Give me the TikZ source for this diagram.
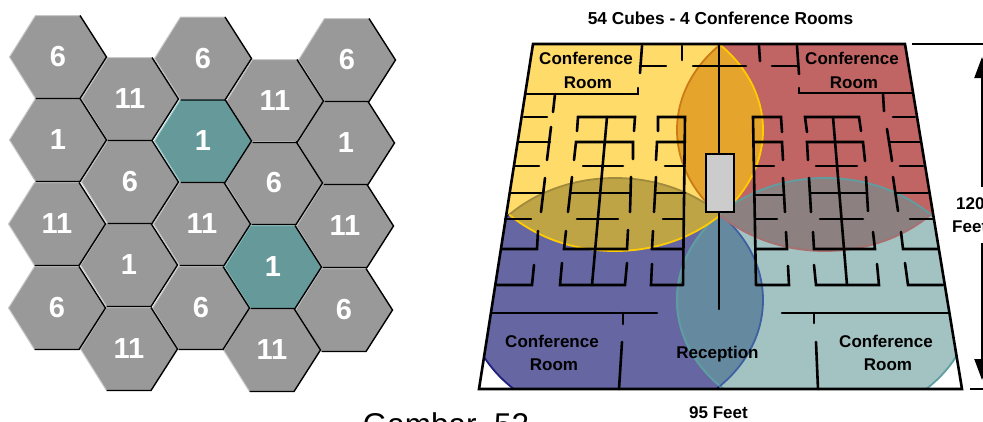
\documentclass[tikz,border=0pt]{standalone}
\usepackage{fontspec}
\setmainfont{Liberation Sans}
\usetikzlibrary{arrows.meta}
\definecolor{hexgrey}{HTML}{999999}
\definecolor{hexteal}{HTML}{669999}
\definecolor{hexlite}{HTML}{C8C8C8}
\definecolor{teallite}{HTML}{9CCCCC}
\definecolor{qyellow}{HTML}{FFDB69}
\definecolor{qred}{HTML}{C06464}
\definecolor{qblue}{HTML}{6666A3}
\definecolor{qteal}{HTML}{A3C2C2}
\definecolor{lorange}{HTML}{E5A42B}
\definecolor{lolive}{HTML}{BFA445}
\definecolor{lgrey}{HTML}{8C8080}
\definecolor{lslate}{HTML}{658AA0}
\definecolor{agold}{HTML}{FFCC00}
\definecolor{adkorange}{HTML}{CC7A14}
\definecolor{adkolive}{HTML}{A08A3C}
\definecolor{aredbrown}{HTML}{A87070}
\definecolor{ateal}{HTML}{5F9EA0}
\definecolor{ablue}{HTML}{3F60A0}
\definecolor{anavy}{HTML}{1F1F80}
\definecolor{deskgrey}{HTML}{CCCCCC}
\def\elY{(615,130) ellipse [x radius=148pt, y radius=121pt]}
\def\elR{(825,130) ellipse [x radius=148pt, y radius=121pt]}
\def\elB{(615,300) ellipse [x radius=148pt, y radius=122pt]}
\def\elT{(825,300) ellipse [x radius=148pt, y radius=122pt]}
\def\floorpath{(533,44) -- (905,44) -- (962,389) -- (479,389) -- cycle}
\tikzset{
  wall/.style={draw=black, line width=2.6pt, line cap=round, line join=miter},
  outerwall/.style={draw=black, line width=2.6pt, line join=miter},
  arc/.style={line width=1.8pt},
  hexnum/.style={text=white, font=\bfseries\fontsize{29}{29}\selectfont, inner sep=0pt},
  planlabel/.style={text=black, font=\bfseries\fontsize{17}{17}\selectfont, inner sep=0pt, anchor=base},
  dimline/.style={draw=black, line width=2.2pt},
  dimarrow/.style={draw=black, line width=2.2pt, -{Triangle[length=21pt,width=15pt]}},
}
% cx, cy, unused, fill, light edge
\newcommand{\hexfill}[5]{%
  \fill[#4] (#1-48.5,#2) -- (#1-22.5,#2-41.5) -- (#1+22,#2-41.5) -- (#1+48.5,#2) -- (#1+22,#2+41.5) -- (#1-22.5,#2+41.5) -- cycle;
  \draw[#5, line width=1pt] (#1-22.5,#2+41.5) -- (#1-48.5,#2) -- (#1-22.5,#2-41.5) -- (#1+22,#2-41.5);
}
\newcommand{\hexedge}[2]{%
  \draw[black, line width=1.4pt, line join=miter] (#1+22,#2-41.5) -- (#1+48.5,#2) -- (#1+22,#2+41.5) -- (#1-22.5,#2+41.5);
}
\begin{document}
\begin{tikzpicture}[x=1pt,y=-1pt]
\useasboundingbox (0,0) rectangle (983,421);
\fill[white] (0,0) rectangle (983,421);
% hex grid
\foreach \cx/\cy/\col/\lite in {58/57/hexgrey/hexlite,58/140/hexgrey/hexlite,57/224/hexgrey/hexlite,57/308/hexgrey/hexlite,
  130/99/hexgrey/hexlite,130/182/hexgrey/hexlite,129/265/hexgrey/hexlite,129/349/hexgrey/hexlite,
  203/58.5/hexgrey/hexlite,203/141/hexteal/teallite,202/224/hexgrey/hexlite,201/308/hexgrey/hexlite,
  275/101/hexgrey/hexlite,274/183/hexgrey/hexlite,273/267/hexteal/teallite,272/350/hexgrey/hexlite,
  347/60/hexgrey/hexlite,346/143/hexgrey/hexlite,345/226/hexgrey/hexlite,344/310/hexgrey/hexlite}
  {\hexfill{\cx}{\cy}{}{\col}{\lite}}
\foreach \cx/\cy in {58/57,58/140,57/224,57/308,130/99,130/182,129/265,129/349,
  203/58.5,203/141,202/224,201/308,275/101,274/183,273/267,272/350,347/60,346/143,345/226,344/310}
  {\hexedge{\cx}{\cy}}
\node[hexnum] (h11) at (58,57) {6};
\node[hexnum] (h12) at (58,140) {1};
\node[hexnum] (h13) at (57,224) {11};
\node[hexnum] (h14) at (57,308) {6};
\node[hexnum] (h21) at (130,99) {11};
\node[hexnum] (h22) at (130,182) {6};
\node[hexnum] (h23) at (129,265) {1};
\node[hexnum] (h24) at (129,349) {11};
\node[hexnum] (h31) at (203,58.5) {6};
\node[hexnum] (h32) at (203,141) {1};
\node[hexnum] (h33) at (202,224) {11};
\node[hexnum] (h34) at (201,308) {6};
\node[hexnum] (h41) at (275,101) {11};
\node[hexnum] (h42) at (274,183) {6};
\node[hexnum] (h43) at (273,267) {1};
\node[hexnum] (h44) at (272,350) {11};
\node[hexnum] (h51) at (347,60) {6};
\node[hexnum] (h52) at (346,143) {1};
\node[hexnum] (h53) at (345,226) {11};
\node[hexnum] (h54) at (344,310) {6};
% floor plan colour zones
\begin{scope}
  \clip \floorpath;
  \fill[qblue] \elB;  \draw[anavy,arc] \elB;
  \fill[qteal] \elT;  \draw[ateal,arc] \elT;
  \begin{scope}\clip \elB; \fill[lslate] \elT; \draw[ateal,arc] \elT; \end{scope}
  \begin{scope}\clip \elT; \draw[ablue,arc] \elB; \end{scope}
  \fill[qyellow] \elY;
  \fill[qred] \elR;
  \begin{scope}\clip \elY; \fill[lorange] \elR; \draw[adkorange,arc] \elR; \end{scope}
  \begin{scope}\clip \elR; \draw[agold,arc] \elY; \end{scope}
  \begin{scope}\clip \elY; \fill[lolive] \elB; \draw[adkolive,arc] \elB; \end{scope}
  \begin{scope}\clip \elR; \fill[lgrey] \elT; \draw[ateal,arc] \elT; \end{scope}
  \begin{scope}\clip (480,130) rectangle (770,300); \begin{scope}\clip \elB; \draw[agold,arc] \elY; \end{scope}\end{scope}
  \begin{scope}\clip \elT; \draw[aredbrown,arc] \elR; \end{scope}
\end{scope}
% outer walls
\draw[outerwall] \floorpath;
% centre spine
\draw[wall] (719,44) -- (719,155);
\draw[wall] (719,212) -- (719,309);
\node[draw=black, line width=2.4pt, fill=deskgrey, minimum width=28pt, minimum height=58pt, inner sep=0pt] (desk) at (720,183) {};
% top left walls
\draw[wall] (642,46) -- (640,73);
\draw[wall] (640,66) -- (666,66);
\draw[wall] (682,46) -- (682,60);
\draw[wall] (693,66) -- (746,66);
\draw[wall] (526,94) -- (638,94) -- (638,88);
\draw[wall] (555,94) -- (553,112);
\draw[wall] (524,117) -- (547,117);
\draw[wall] (551,127) -- (547,160);
\draw[wall] (519,142) -- (550,142);
\draw[wall] (515,166) -- (539,166);
\draw[wall] (545,178) -- (541,212);
\draw[wall] (510,193) -- (543,193);
\draw[wall] (577,131) -- (578,117) -- (635,117) -- (634,131);
\draw[wall] (607,117) -- (592,285);
\draw[wall] (574,160) -- (576,142) -- (633,142) -- (633,159);
\draw[wall] (583,166) -- (623,166);
\draw[wall] (572,177) -- (568,212);
\draw[wall] (631,177) -- (630,212);
\draw[wall] (570,193) -- (630,193);
\draw[wall] (658,131) -- (658,117) -- (685,117) -- (683,285);
\draw[wall] (656,160) -- (657,142) -- (685,142);
\draw[wall] (665,166) -- (685,166);
\draw[wall] (656,177) -- (654,212);
\draw[wall] (655,193) -- (685,193);
% lower left walls
\draw[wall] (505,219) -- (531,219);
\draw[wall] (577,219) -- (618,219);
\draw[wall] (663,219) -- (683,219);
\draw[wall] (502,249) -- (537,249) -- (538,231);
\draw[wall] (566,231) -- (564,249) -- (627,249) -- (628,230);
\draw[wall] (653,231) -- (652,249) -- (683,249);
\draw[wall] (497,285) -- (532,285) -- (534,265);
\draw[wall] (562,263) -- (560,285) -- (625,285) -- (627,263);
\draw[wall] (652,264) -- (651,285) -- (683,285);
\draw[wall] (492,313) -- (657,313);
\draw[wall] (623,313) -- (623,324);
\draw[wall] (622,342) -- (619,389);
% top right walls
\draw[wall] (759,46) -- (760,61);
\draw[wall] (797,46) -- (799,74);
\draw[wall] (772,66) -- (797,66);
\draw[wall] (799,88) -- (799,93) -- (912,93);
\draw[wall] (883,94) -- (884,111);
\draw[wall] (893,117) -- (915,117);
\draw[wall] (887,129) -- (892,161);
\draw[wall] (889,142) -- (920,142);
\draw[wall] (900,166) -- (923,166);
\draw[wall] (893,177) -- (898,211);
\draw[wall] (895,193) -- (928,193);
\draw[wall] (782,132) -- (781,117) -- (753,117) -- (756,285);
\draw[wall] (754,142) -- (782,142) -- (783,160);
\draw[wall] (754,166) -- (774,166);
\draw[wall] (783,178) -- (785,212);
\draw[wall] (754,195) -- (784,195);
\draw[wall] (807,132) -- (805,117) -- (859,117) -- (861,131);
\draw[wall] (833,117) -- (847,285);
\draw[wall] (808,160) -- (807,142) -- (863,142) -- (865,161);
\draw[wall] (816,166) -- (857,166);
\draw[wall] (809,178) -- (811,212);
\draw[wall] (866,177) -- (868,211);
\draw[wall] (811,193) -- (867,193);
% lower right walls
\draw[wall] (755,219) -- (777,219);
\draw[wall] (820,219) -- (863,219);
\draw[wall] (910,219) -- (933,219);
\draw[wall] (756,249) -- (787,249) -- (786,232);
\draw[wall] (813,232) -- (814,249) -- (875,249) -- (873,232);
\draw[wall] (901,232) -- (903,249) -- (938,249);
\draw[wall] (756,285) -- (789,285) -- (788,266);
\draw[wall] (814,265) -- (816,285) -- (879,285) -- (877,264);
\draw[wall] (905,263) -- (908,285) -- (943,285);
\draw[wall] (782,313) -- (948,313);
\draw[wall] (814,313) -- (814,323);
\draw[wall] (816,342) -- (818,389);
% labels
\node[planlabel] (title) at (720.5,24) {\fontsize{17.3}{17}\selectfont 54 Cubes - 4 Conference Rooms};
\node[planlabel] (ctl) at (586,64) {Conference};
\node[planlabel] (rtl) at (588,88) {Room};
\node[planlabel] (ctr) at (852,64) {Conference};
\node[planlabel] (rtr) at (854,88) {Room};
\node[planlabel] (cbl) at (552,347) {Conference};
\node[planlabel] (rbl) at (554,370) {Room};
\node[planlabel] (cbr) at (886,347) {Conference};
\node[planlabel] (rbr) at (888,370) {Room};
\node[planlabel] (recep) at (717.5,358) {Reception};
\node[planlabel] (width) at (718.5,418) {95 Feet};
\node[planlabel, anchor=base west] (h120) at (956,209) {120};
\node[planlabel, anchor=base west] (hfeet) at (952,232) {Feet};
\node[anchor=base, inner sep=0pt, font=\fontsize{31.5}{32}\selectfont] (gambar) at (446,435) {Gambar\ \ 52};
% dimension lines
\coordinate (dimtopa) at (912,44);
\coordinate (dimtopb) at (983,44);
\coordinate (dimbota) at (970,389);
\coordinate (dimbotb) at (983,389);
\coordinate (arrowupa) at (982,187);
\coordinate (arrowupb) at (982,57);
\coordinate (arrowdna) at (982,243);
\coordinate (arrowdnb) at (982,380);
\draw[dimline] (dimtopa) -- (dimtopb);
\draw[dimline] (dimbota) -- (dimbotb);
\draw[dimarrow] (arrowupa) -- (arrowupb);
\draw[dimarrow] (arrowdna) -- (arrowdnb);
\end{tikzpicture}
\end{document}
